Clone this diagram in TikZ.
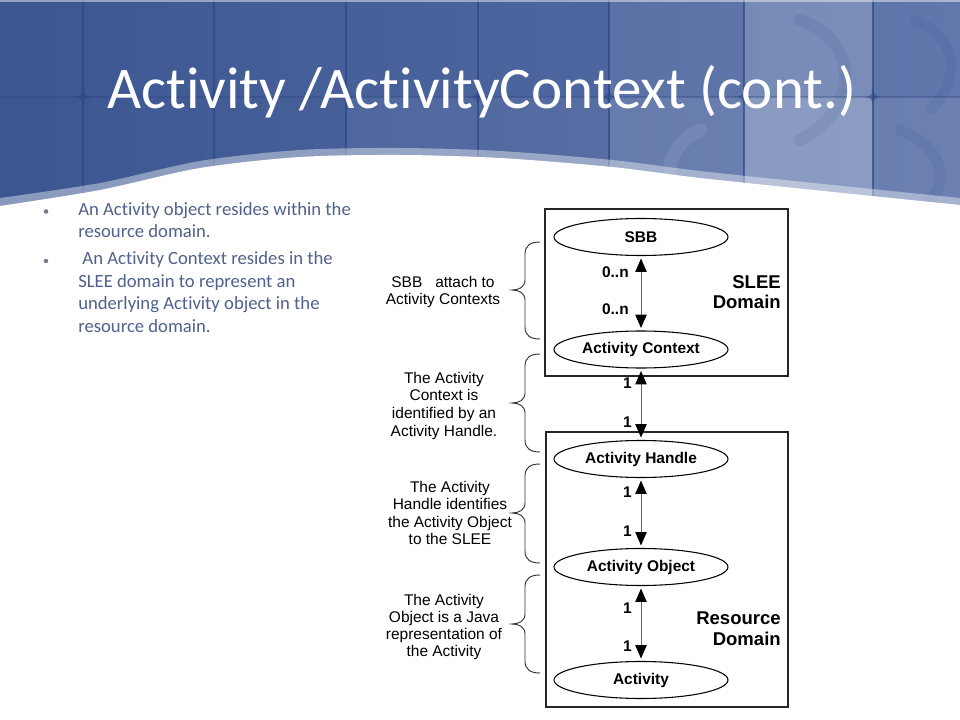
\documentclass[tikz,border=0pt]{standalone}
\usepackage{fontspec}
\setmainfont{Carlito}[Ligatures=NoCommon]
\newfontfamily\arialf{Liberation Sans}
\usetikzlibrary{arrows.meta,shapes.geometric}
\newlength\px \setlength\px{0.75pt}
\definecolor{hbA}{RGB}{60,86,145}
\definecolor{hbB}{RGB}{88,112,168}
\definecolor{gridblue}{RGB}{45,70,132}
\definecolor{bullettext}{RGB}{80,97,140}
\definecolor{bulletdot}{RGB}{110,120,140}
\newcommand\drawbrace[3]{%
  \draw[bracestyle] (540,#1) .. controls (531,#1) and (525,#1+3) .. (525,#1+12)
    -- (525,#2-10) .. controls (525,#2-3) and (519,#2) .. (512,#2)
    .. controls (519,#2) and (525,#2+3) .. (525,#2+10)
    -- (525,#3-12) .. controls (525,#3-3) and (531,#3) .. (540,#3);}
\begin{document}
\begin{tikzpicture}[x=0.75pt,y=-0.75pt,
  ell/.style={ellipse, draw=black, line width=0.8pt, minimum width=174\px,
    minimum height=37\px, inner sep=0pt,
    font=\arialf\bfseries\fontsize{11.6}{13}\selectfont},
  dombox/.style={draw=black!85, line width=1.6pt},
  dbl/.style={draw=black!60, line width=0.7pt,
    {Triangle[width=8.5pt,length=10pt,color=black]}-{Triangle[width=8.5pt,length=10pt,color=black]},
    shorten >=2.5\px, shorten <=2.5\px},
  mult/.style={font=\arialf\bfseries\fontsize{11.6}{13}\selectfont, anchor=base east, inner sep=0pt},
  note/.style={font=\arialf\fontsize{11.6}{13}\selectfont, anchor=base, inner sep=0pt},
  dom/.style={font=\arialf\bfseries\fontsize{13.9}{15}\selectfont, anchor=base east, inner sep=0pt},
  bracestyle/.style={draw=black!80, line width=0.7pt},
  bul/.style={font=\fontsize{14}{16.5}\selectfont, text=bullettext, anchor=base west, inner sep=0pt},
  gridline/.style={draw=gridblue, line width=2pt, opacity=0.7},
]
\useasboundingbox (0,0) rectangle (960,720);
\fill[white] (0,0) rectangle (960,720);
% ---------- header band ----------
\shade[left color=hbA, right color=hbB] (0,0) rectangle (960,215);
\fill[white, opacity=0.05] (346,97) rectangle (609,215);
\fill[white, opacity=0.08] (609,0) rectangle (744,97);
\fill[white, opacity=0.14] (609,97) rectangle (744,215);
\fill[white, opacity=0.22] (744,0) rectangle (873,97);
\fill[white, opacity=0.32] (744,97) rectangle (873,215);
\fill[white, opacity=0.06] (873,0) rectangle (960,97);
\fill[white, opacity=0.12] (873,97) rectangle (960,215);
% decorative crescents
\draw[gridblue, opacity=0.10, line width=9pt, line cap=round] (800,20) .. controls (860,40) and (860,110) .. (800,140);
\draw[gridblue, opacity=0.10, line width=8pt, line cap=round] (915,20) .. controls (960,40) and (960,80) .. (930,110);
\draw[gridblue, opacity=0.10, line width=8pt, line cap=round] (900,130) .. controls (950,150) and (950,190) .. (920,210);
\draw[white, opacity=0.08, line width=10pt, line cap=round] (700,130) .. controls (660,150) and (660,190) .. (700,205);
% grid
\foreach \gx in {83,214,346,478,609,744,873}
  \draw[gridline] (\gx,0) -- (\gx,215);
\draw[gridline, opacity=0.35] (0,97) -- (960,97);
\foreach \gx in {83,214,346,478,609,744,873}
  \fill[gridblue, opacity=0.5] (\gx-9,97) .. controls (\gx-2,96) and (\gx-1,95) .. (\gx,88)
     .. controls (\gx+1,95) and (\gx+2,96) .. (\gx+9,97)
     .. controls (\gx+2,98) and (\gx+1,99) .. (\gx,106)
     .. controls (\gx-1,99) and (\gx-2,98) .. (\gx-9,97) -- cycle;
\fill[white, opacity=0.45] (0,0) rectangle (960,2);
% wave
\fill[white, opacity=0.4] (0,260) -- plot[smooth] coordinates {(0,198) (100,183) (200,161) (300,150) (400,148) (500,151) (612,160) (700,171) (833,185) (960,198)} -- (960,260) -- cycle;
\fill[white] (0,260) -- plot[smooth] coordinates {(0,206) (100,190) (200,168) (300,157) (400,155) (500,158) (612,167) (700,178) (833,192) (960,205)} -- (960,260) -- cycle;
% title
\node[anchor=base west, text=white, font=\fontsize{44.3}{50}\selectfont, inner sep=0pt] (title) at (107,109) {Activity /ActivityContext (cont.)};
% ---------- bullets ----------
\fill[bulletdot] (46,211.5) circle[radius=1.7pt];
\fill[bulletdot] (46,261) circle[radius=1.7pt];
\node[bul] (b1a) at (78,215.5) {An Activity object resides within the};
\node[bul] (b1b) at (78,237.5) {resource domain.};
\node[bul] (b2a) at (78,265) {\ An Activity Context resides in the};
\node[bul] (b2b) at (78,287.5) {SLEE domain to represent an};
\node[bul] (b2c) at (78,310) {underlying Activity object in the};
\node[bul] (b2d) at (78,332) {resource domain.};
% ---------- diagram ----------
\draw[dombox] (545,209) rectangle (788,376);
\draw[dombox] (546,432) rectangle (788,707);
\node[ell] (sbb) at (641,237) {SBB};
\node[ell] (actx) at (641,349.5) {Activity Context};
\node[ell] (ahnd) at (641,459) {Activity Handle};
\node[ell] (aobj) at (641,567) {Activity Object};
\node[ell] (act) at (641,680) {Activity};
\draw[dbl] (sbb.south) -- (actx.north);
\draw[dbl] (actx.south) -- (ahnd.north);
\draw[dbl] (ahnd.south) -- (aobj.north);
\draw[dbl] (aobj.south) -- (act.north);
\node[mult] (m1) at (629,277) {0..n};
\node[mult] (m2) at (629,315) {0..n};
\node[mult] (m3) at (632,388) {1};
\node[mult] (m4) at (632,427) {1};
\node[mult] (m5) at (632,497) {1};
\node[mult] (m6) at (632,536) {1};
\node[mult] (m7) at (632,613) {1};
\node[mult] (m8) at (632,651) {1};
\node[dom] (d1) at (781,288) {SLEE};
\node[dom] (d2) at (781,309) {Domain};
\node[dom] (d3) at (781,624) {Resource};
\node[dom] (d4) at (781,645) {Domain};
% braces and notes
\drawbrace{242}{290}{339}
\drawbrace{354}{403}{452}
\drawbrace{464}{513}{563}
\drawbrace{575}{624}{673}
\node[note] (n1a) at (443,287.5) {SBB\ \ \ attach to};
\node[note] (n1b) at (443,304.5) {Activity Contexts};
\node[note] (n2a) at (444,383) {The Activity};
\node[note] (n2b) at (444,400.5) {Context is};
\node[note] (n2c) at (444,418) {identified by an};
\node[note] (n2d) at (444,436) {Activity Handle.};
\node[note] (n3a) at (450,492) {The Activity};
\node[note] (n3b) at (450,509.5) {Handle identifies};
\node[note] (n3c) at (450,527.5) {the Activity Object};
\node[note] (n3d) at (450,544.5) {to the SLEE};
\node[note] (n4a) at (444,605) {The Activity};
\node[note] (n4b) at (444,622) {Object is a Java};
\node[note] (n4c) at (444,639) {representation of};
\node[note] (n4d) at (444,656.5) {the Activity};
\end{tikzpicture}
\end{document}
